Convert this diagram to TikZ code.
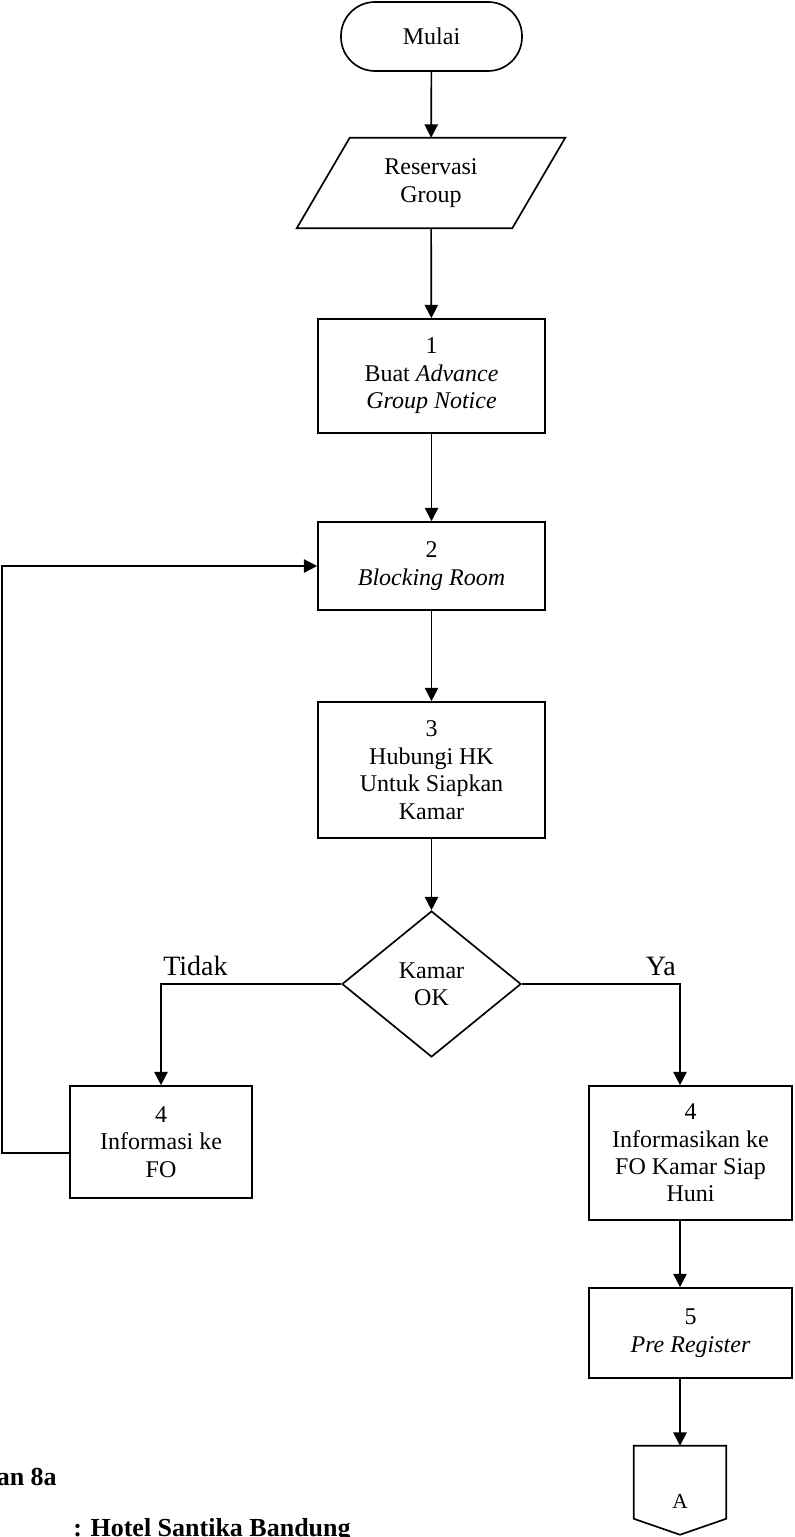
\documentclass[tikz,border=0pt]{standalone}
\usepackage{fontspec}
\setmainfont{Liberation Serif}
\usetikzlibrary{shapes.geometric,arrows.meta,calc}

\begin{document}
\begin{tikzpicture}[x=0.75pt,y=-0.75pt,
  flowline/.style={line width=1.25pt, line join=miter},
  arr/.style={flowline, -{Triangle[width=10pt,length=10pt]}},
  body/.style={font=\fontsize{18pt}{20.6pt}\selectfont, align=center, inner sep=0pt},
  procbox/.style={body, draw, flowline, rectangle},
  terminal/.style={body, draw, flowline, rectangle, rounded corners=25.5pt},
  decision/.style={body, draw, flowline, diamond},
  branchlabel/.style={font=\fontsize{21pt}{24pt}\selectfont, inner sep=0pt},
  capline/.style={font=\fontsize{19.5pt}{22pt}\selectfont\bfseries, inner sep=0pt}
]
\useasboundingbox (0,0) rectangle (794,1537);
\clip (0,0) rectangle (794,1537);

% main column
\node[terminal, minimum width=181*0.75pt, minimum height=69*0.75pt] (start) at (431.5,36.5) {Mulai};

\node[body, minimum width=268*0.75pt, minimum height=90*0.75pt] (res) at (431,183) {Reservasi\\Group};
\draw[flowline] (res.south west) -- ($(res.south east)+(-53,0)$) -- (res.north east)
  -- ($(res.north west)+(53,0)$) -- cycle;

\node[procbox, minimum width=227*0.75pt, minimum height=114*0.75pt] (b1) at (431.5,376)
  {1\\Buat \textit{Advance}\\\textit{Group Notice}};
\node[procbox, minimum width=227*0.75pt, minimum height=88*0.75pt] (b2) at (431.5,566)
  {2\\\textit{Blocking Room}};
\node[procbox, minimum width=227*0.75pt, minimum height=136*0.75pt] (b3) at (431.5,770)
  {3\\Hubungi HK\\Untuk Siapkan\\Kamar};
\node[decision, minimum width=179*0.75pt, minimum height=146*0.75pt] (dec) at (431.5,984)
  {Kamar\\OK};

% branches
\node[procbox, minimum width=182*0.75pt, minimum height=112*0.75pt] (b4l) at (161,1142)
  {4\\Informasi ke\\FO};
\node[procbox, minimum width=203*0.75pt, minimum height=134*0.75pt] (b4r) at (690.5,1153)
  {4\\Informasikan ke\\FO Kamar Siap\\Huni};
\node[procbox, minimum width=203*0.75pt, minimum height=90*0.75pt] (b5) at (690.5,1333)
  {5\\\textit{Pre Register}};

% off-page connector
\node[body, font=\fontsize{16pt}{18pt}\selectfont, minimum width=92*0.75pt, minimum height=110*0.75pt] (conA) at (680,1501) {A};
\draw[flowline] (conA.north west) -- (conA.north east) -- ++(0,73)
  -- ($(conA.north)+(0,89)$) -- ($(conA.north west)+(0,73)$) -- cycle;

% connectors
\draw[arr] (start) -- (res);
\draw[arr] (res) -- (b1);
\draw[arr] (b1) -- (b2);
\draw[arr] (b2) -- (b3);
\draw[arr] (b3) -- (dec);
\draw[arr] (dec.west) -| (b4l.north);
\draw[arr] (dec.east) -| ([xshift=-7.875pt]b4r.north);
\draw[arr] ([xshift=-7.875pt]b4r.south) -- ([xshift=-7.875pt]b5.north);
\draw[arr] ([xshift=-7.875pt]b5.south) -- (conA.north);
\draw[arr] ([yshift=-8.25pt]b4l.west) -- ++(-67,0) |- (b2.west);

% branch labels
\node[branchlabel, anchor=base west] (tidak) at (163,975) {Tidak};
\node[branchlabel, anchor=base east] (ya) at (676,975) {Ya};

% caption lines, running off the page edges
\node[capline, anchor=base east] (lamp) at (57,1485) {an 8a};
\node[capline, anchor=base west] (hotel) at (73,1536) {: Hotel Santika Bandung};
\end{tikzpicture}
\end{document}
